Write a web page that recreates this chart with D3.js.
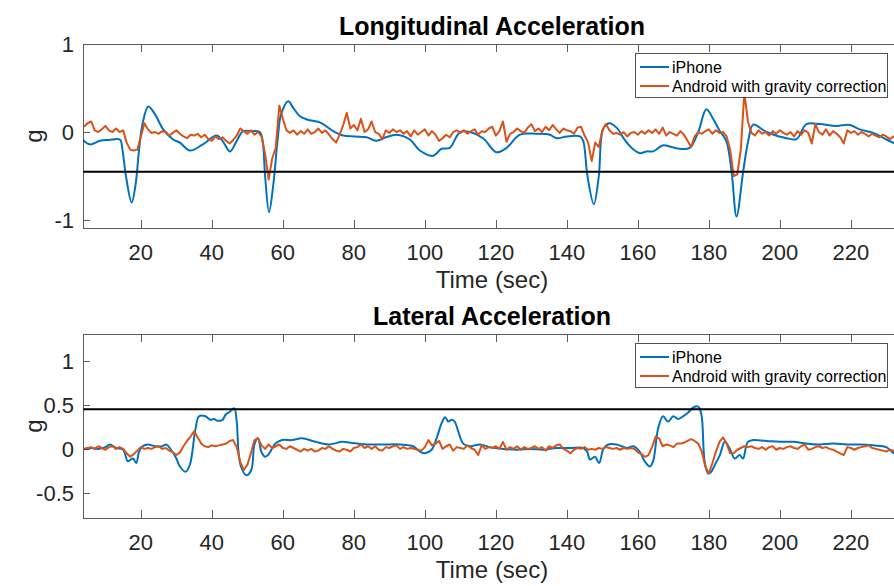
<!DOCTYPE html>
<html>
<head>
<meta charset="utf-8">
<script src="https://cdn.jsdelivr.net/npm/d3@7"></script>
<style>
  html, body { margin: 0; padding: 0; background: #fff; }
  svg { display: block; font-family: "Liberation Sans", Arial, Helvetica, sans-serif; }
</style>
</head>
<body>
<svg id="chart" width="894" height="586"></svg>
<script>
// ---------------- DATA ----------------
const seriesNames = ["iPhone", "Android with gravity correction"];
const xTicks = [20, 40, 60, 80, 100, 120, 140, 160, 180, 200, 220];
const xDomain = [3.7, 233];
const longYTicks = [-1, 0, 1];
const latYTicks = [-0.5, 0, 0.5, 1];
const longThreshold = -0.45;
const latThreshold = 0.45;

// Android sampled once per second, from t = 4 s
const androidStart = 4;
const androidLong = [
  0.06,0.10,0.12,0.02,0.00,0.03,0.07,0.02,0.00,0.04,0.00,0.02,-0.12,-0.20,-0.21,-0.20,-0.05,0.10,0.03,-0.01,
  0.00,-0.02,0.01,0.00,-0.04,-0.01,0.02,-0.02,-0.05,-0.07,-0.03,-0.04,-0.02,-0.06,-0.03,-0.08,-0.10,-0.05,-0.08,-0.06,
  -0.10,-0.13,-0.09,-0.04,0.04,0.01,-0.02,0.02,-0.03,0.00,-0.05,-0.25,-0.54,-0.30,-0.18,0.30,0.15,0.02,-0.01,0.02,
  -0.03,0.01,-0.02,0.03,-0.02,0.00,0.04,-0.01,0.02,-0.03,-0.08,-0.12,-0.03,0.08,0.22,0.04,0.08,0.02,0.15,0.00,
  0.03,0.12,0.00,-0.02,-0.08,0.02,-0.01,0.03,0.00,0.02,-0.02,0.01,-0.05,0.02,-0.03,0.00,0.03,-0.04,0.01,-0.03,
  -0.10,-0.07,-0.03,-0.06,0.00,0.02,-0.01,0.02,-0.02,0.01,0.03,-0.03,0.01,0.00,0.04,0.06,-0.04,0.01,0.12,-0.11,
  -0.02,0.00,0.04,0.01,-0.01,0.05,0.09,0.01,0.04,0.00,0.06,0.02,0.08,0.03,-0.01,0.04,0.02,0.01,-0.02,0.05,
  0.06,-0.04,-0.12,-0.33,-0.12,-0.17,0.02,0.09,0.02,-0.02,-0.01,-0.03,0.00,-0.05,-0.01,0.00,-0.03,0.01,-0.02,0.02,
  -0.01,0.03,-0.02,0.05,-0.04,0.00,-0.02,-0.04,0.01,-0.03,-0.10,-0.17,-0.05,0.00,-0.02,0.01,0.03,-0.02,0.02,-0.01,
  0.00,-0.05,-0.20,-0.50,-0.48,-0.20,0.45,0.12,-0.01,-0.04,0.02,-0.02,0.00,-0.04,0.01,-0.02,0.02,-0.01,-0.03,0.00,
  -0.05,0.01,-0.03,0.02,-0.01,-0.13,0.09,0.00,-0.03,0.03,-0.04,0.01,-0.02,-0.06,-0.13,0.02,-0.01,0.01,-0.03,0.00,
  -0.02,-0.05,-0.02,-0.04,-0.06,-0.03,-0.05,-0.08,-0.05,-0.06
];
const androidLat = [
  0.00,0.01,0.02,0.00,0.03,0.01,-0.01,0.02,0.03,0.00,0.02,0.00,-0.05,-0.09,-0.06,-0.02,0.02,0.00,0.01,0.00,
  0.02,0.03,0.00,0.01,-0.02,-0.04,-0.07,-0.04,0.03,0.09,0.14,0.20,0.13,0.06,0.03,0.02,0.04,0.03,0.04,0.05,
  0.06,0.09,0.10,0.02,-0.15,-0.24,-0.18,-0.05,0.10,0.12,0.04,0.00,0.05,0.01,0.03,0.05,0.01,0.00,0.03,0.01,
  -0.01,-0.03,0.00,-0.02,0.00,-0.03,-0.02,0.01,0.00,0.03,0.00,-0.02,-0.03,0.00,-0.01,-0.03,0.01,0.02,0.05,0.01,
  0.03,0.00,0.03,-0.01,-0.02,0.02,0.01,0.03,0.04,0.00,0.02,0.00,0.01,0.00,-0.01,-0.02,0.02,0.10,0.04,0.06,
  0.09,0.00,0.03,0.05,-0.02,0.02,0.01,0.00,0.04,0.01,-0.01,-0.07,0.04,0.00,0.02,0.01,0.03,0.00,0.08,-0.01,
  0.02,0.00,0.03,-0.01,0.02,0.00,0.01,0.03,0.00,0.02,-0.02,0.03,0.01,0.04,0.05,0.00,-0.02,-0.05,-0.01,0.01,
  0.00,0.02,-0.01,0.00,-0.01,0.01,0.00,0.02,0.01,0.00,0.01,-0.01,0.01,0.00,0.01,0.00,-0.04,-0.06,-0.09,-0.07,
  0.02,0.14,0.12,0.03,0.05,0.04,0.02,0.06,0.06,0.07,0.09,0.11,0.09,0.06,-0.03,-0.20,-0.28,-0.16,-0.03,0.08,
  0.13,0.06,-0.05,-0.05,-0.01,0.01,0.03,0.02,0.03,0.01,0.00,0.02,-0.01,0.02,0.03,-0.01,0.01,0.00,0.02,0.03,
  0.01,0.00,0.03,0.05,-0.01,0.00,0.02,0.03,0.01,0.02,0.00,-0.01,-0.03,-0.05,-0.07,0.02,0.01,-0.01,0.01,0.02,
  0.03,0.04,0.01,0.00,-0.01,-0.02,-0.03,-0.01,-0.02,-0.02
];

// iPhone (smooth) key samples: time (s) and value (g)
const iphoneLongT = [3.7,5.6,8.5,11,14.1,14.8,15.8,17.4,18.5,19.5,20.5,22.1,24,26.3,29.1,31,33.8,37.5,41.3,43,45.1,47,48.8,51,53.5,54.3,55,56.1,57.3,58.5,59.5,61.5,63,64.8,67,70.4,74.2,77,80.3,83.6,86.4,89,92,95.8,98.6,102.3,104.7,107,109.9,112.7,116.4,120.2,123,126.8,131.5,135.2,137.1,140,143.7,144.6,145.8,147.6,149,150.2,151.9,154,156.3,158.5,160.6,162.5,164.3,167.1,169.5,171.8,174.6,177,179.3,181.2,183.1,184.9,186.4,187.8,189.7,191.1,192.5,196.2,201.9,204.7,207.5,211.3,215.9,219.7,222.5,226.3,230,233];
const iphoneLong = [-0.09,-0.14,-0.10,-0.09,-0.085,-0.2,-0.5,-0.80,-0.6,-0.2,0.1,0.29,0.2,0.03,-0.085,-0.12,-0.21,-0.14,-0.04,-0.1,-0.22,-0.1,0.01,0.01,0.0,-0.1,-0.5,-0.91,-0.6,-0.1,0.2,0.35,0.27,0.18,0.14,0.11,0.01,-0.04,-0.05,-0.06,-0.10,-0.06,-0.03,-0.085,-0.21,-0.27,-0.19,-0.18,0.0,0.0,-0.07,-0.23,-0.18,-0.03,-0.02,-0.03,-0.07,-0.05,-0.05,-0.1,-0.5,-0.82,-0.5,0.03,0.10,0.05,-0.09,-0.19,-0.24,-0.22,-0.22,-0.15,-0.17,-0.19,-0.18,0.0,0.26,0.15,0.01,-0.10,-0.45,-0.96,-0.44,-0.10,0.085,0.0,-0.07,-0.08,0.09,0.09,0.07,0.08,0.03,-0.01,-0.085,-0.14];

const iphoneLatT = [4,6,8,10,11.3,13,15,16.3,17.2,17.8,18.7,19.5,20.5,22,24,26,27.1,28.5,30,31,32.6,33.8,35.4,36.4,38.2,39.6,40.6,41.5,43,43.9,45,46.3,47,47.5,48.2,49.7,51.1,52,53,53.9,54.5,54.9,55.8,56.9,57.9,59.8,62.6,65.4,69.2,72.9,76.7,79,83.6,88.3,93,96.7,98.6,100,101.9,103.3,104.7,105.7,106.6,107.5,108.4,109.4,110.8,112.7,115.5,118.3,122.1,125.8,129.6,133.4,137.1,140.9,144.6,145.7,146.5,147.9,149.1,150.3,151.7,154,155.5,157,158.7,160.5,161.9,163.4,164.3,165.7,167.1,168.5,170,171.3,172.7,174.1,175.6,177,177.9,178.8,179.8,180.7,181.7,183.1,184.5,185.9,187.3,188.7,189.6,191,192.5,196.2,200,203.7,207.5,211.2,215,218.8,222.5,226.3,230,232.1,233];
const iphoneLat = [0,0.01,0.0,0.02,0.05,0.01,-0.01,-0.14,-0.12,-0.11,-0.16,-0.03,0.03,0.05,0.03,0.03,0.05,-0.01,-0.11,-0.20,-0.26,-0.18,0.23,0.37,0.37,0.33,0.34,0.32,0.33,0.39,0.42,0.46,0.31,-0.03,-0.20,-0.30,-0.24,0.05,0.12,-0.03,-0.07,-0.09,-0.07,0.0,0.06,0.10,0.10,0.12,0.08,0.05,0.08,0.07,0.05,0.05,0.05,0.03,-0.03,-0.05,-0.01,0.12,0.29,0.36,0.31,0.33,0.31,0.20,0.06,0.03,0.05,0.02,0.0,-0.01,0.0,-0.01,0.01,0.01,0.01,-0.03,-0.12,-0.09,-0.16,0.0,0.05,0.05,0.03,0.01,0.03,-0.03,-0.14,-0.20,-0.14,0.23,0.37,0.31,0.37,0.34,0.37,0.41,0.47,0.48,0.39,-0.14,-0.28,-0.26,-0.18,-0.07,0.08,0.0,-0.11,-0.07,-0.11,0.08,0.10,0.09,0.08,0.08,0.06,0.05,0.06,0.05,0.05,0.04,0.02,-0.05,-0.06];

// ---------------- DRAWING ----------------
const BLUE = "#0072BD", ORANGE = "#D95319", AXIS = "#262626";
const svg = d3.select("#chart");
svg.append("rect").attr("width", 894).attr("height", 586).attr("fill", "#fff");

const x = d3.scaleLinear().domain(xDomain).range([83, 897]);
const toPts = (ts, vs) => vs.map((v, i) => [ts[i], v]);
const androidPts = vs => vs.map((v, i) => [androidStart + i, v]);

function panel(cfg) {
  const { top, bottom, yDomain, yTicks, title, threshold, iphone, android, id } = cfg;
  const y = d3.scaleLinear().domain(yDomain).range([bottom, top]);
  const g = svg.append("g");

  g.append("clipPath").attr("id", id).append("rect")
    .attr("x", 83).attr("y", top).attr("width", 897 - 83).attr("height", bottom - top);

  const data = g.append("g").attr("clip-path", `url(#${id})`);
  const lineSmooth = d3.line().x(d => x(d[0])).y(d => y(d[1])).curve(d3.curveCatmullRom.alpha(0.5));
  const lineRaw = d3.line().x(d => x(d[0])).y(d => y(d[1]));

  data.append("path").datum(iphone).attr("d", lineSmooth)
    .attr("fill", "none").attr("stroke", BLUE).attr("stroke-width", 2).attr("stroke-linejoin", "round");
  data.append("path").datum(android).attr("d", lineRaw)
    .attr("fill", "none").attr("stroke", ORANGE).attr("stroke-width", 2).attr("stroke-linejoin", "round");
  data.append("line").attr("x1", 83).attr("x2", 897)
    .attr("y1", y(threshold)).attr("y2", y(threshold))
    .attr("stroke", "#000").attr("stroke-width", 2);

  // axes box (top, bottom, left)
  const box = g.append("g").attr("stroke", AXIS).attr("stroke-width", 1).attr("fill", "none").attr("opacity", 0.75);
  box.append("line").attr("x1", 83).attr("x2", 897).attr("y1", top + 0.5).attr("y2", top + 0.5);
  box.append("line").attr("x1", 83).attr("x2", 897).attr("y1", bottom + 0.5).attr("y2", bottom + 0.5);
  box.append("line").attr("x1", 83.5).attr("x2", 83.5).attr("y1", top).attr("y2", bottom + 1);

  // x ticks inward top & bottom
  xTicks.forEach(t => {
    const px = Math.round(x(t)) + 0.5;
    box.append("line").attr("x1", px).attr("x2", px).attr("y1", bottom).attr("y2", bottom - 8);
    box.append("line").attr("x1", px).attr("x2", px).attr("y1", top).attr("y2", top + 8);
  });
  yTicks.forEach(v => {
    const py = Math.round(y(v)) + 0.5;
    box.append("line").attr("x1", 83).attr("x2", 90).attr("y1", py).attr("y2", py);
  });

  // tick labels
  g.selectAll(".xl").data(xTicks).enter().append("text")
    .attr("x", d => x(d)).attr("y", bottom + 24).attr("dy", "0.36em")
    .attr("text-anchor", "middle").attr("font-size", 22).attr("fill", AXIS)
    .text(d => d);
  g.selectAll(".yl").data(yTicks).enter().append("text")
    .attr("x", 74).attr("y", d => y(d)).attr("dy", "0.36em")
    .attr("text-anchor", "end").attr("font-size", 22).attr("fill", AXIS)
    .text(d => String(d));

  g.append("text").attr("x", 492).attr("y", bottom + 60)
    .attr("text-anchor", "middle").attr("font-size", 24).attr("fill", AXIS).text("Time (sec)");
  g.append("text").attr("transform", `translate(42,${(top + bottom) / 2}) rotate(-90)`)
    .attr("text-anchor", "middle").attr("font-size", 24).attr("fill", AXIS).text("g");
  g.append("text").attr("x", 492).attr("y", top - 9)
    .attr("text-anchor", "middle").attr("font-size", 25).attr("font-weight", "bold").attr("fill", "#000")
    .text(title);

  // legend
  const lg = g.append("g").attr("transform", `translate(635,${top + 9})`);
  lg.append("rect").attr("x", 0.5).attr("y", 0.5).attr("width", 252).attr("height", 44)
    .attr("fill", "#fff").attr("stroke", AXIS).attr("stroke-width", 1).attr("stroke-opacity", 0.8);
  [BLUE, ORANGE].forEach((c, i) => {
    const cy = 14 + i * 19;
    lg.append("line").attr("x1", 5).attr("x2", 34).attr("y1", cy).attr("y2", cy)
      .attr("stroke", c).attr("stroke-width", 2);
    lg.append("text").attr("x", 37).attr("y", cy).attr("dy", "0.36em")
      .attr("font-size", 16).attr("fill", "#000").text(seriesNames[i]);
  });
}

panel({ id: "clipLong", top: 44, bottom: 228, yDomain: [-1.09, 1.0], yTicks: longYTicks,
  title: "Longitudinal Acceleration", threshold: longThreshold,
  iphone: toPts(iphoneLongT, iphoneLong), android: androidPts(androidLong) });
panel({ id: "clipLat", top: 334, bottom: 518, yDomain: [-0.785, 1.305], yTicks: latYTicks,
  title: "Lateral Acceleration", threshold: latThreshold,
  iphone: toPts(iphoneLatT, iphoneLat), android: androidPts(androidLat) });
</script>
</body>
</html>
